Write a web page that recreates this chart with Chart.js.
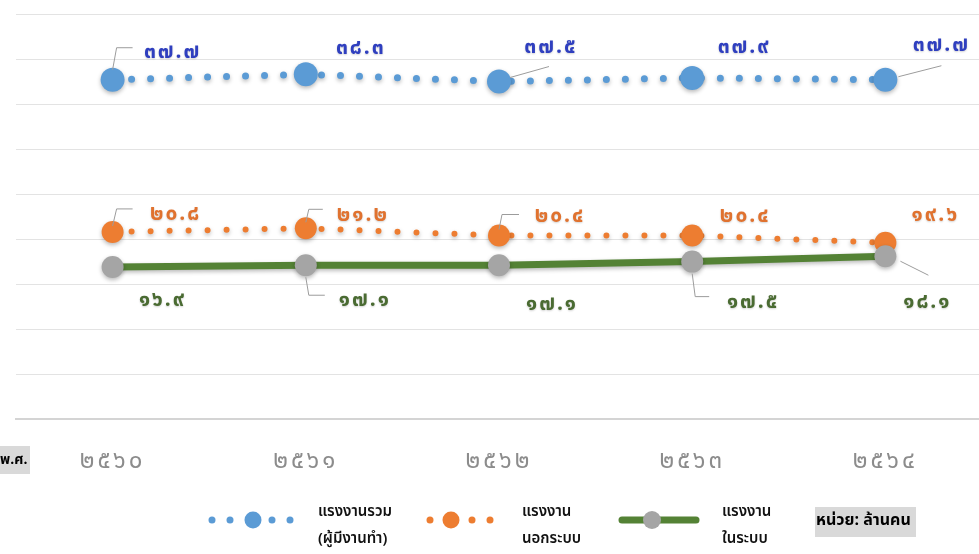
<!DOCTYPE html>
<html>
<head>
<meta charset="utf-8">
<script src="https://cdn.jsdelivr.net/npm/chart.js@4/dist/chart.umd.min.js"></script>
<style>
  html, body { margin: 0; padding: 0; background: #fff; overflow: hidden; }
  #wrap { position: relative; width: 979px; height: 554px; overflow: hidden; }
</style>
</head>
<body>
<div id="wrap"><canvas id="chLabour" width="994" height="554"></canvas></div>
<script>
/* labour force chart, values in million persons */

// data
var years = [2560, 2561, 2562, 2563, 2564];
var totalLabour = [37.7, 38.3, 37.5, 37.9, 37.7];
var informalLabour = [20.8, 21.2, 20.4, 20.4, 19.6];
var formalLabour = [16.9, 17.1, 17.1, 17.5, 18.1];
var seriesNames = [['แรงงานรวม', '(ผู้มีงานทำ)'], ['แรงงาน', 'นอกระบบ'], ['แรงงาน', 'ในระบบ']];

// colors
var colors = {blue: '#5b9bd5', orange: '#ed7d31', green: '#548235', gray: '#a5a5a5'};
var labelColors = ['#2f3fbf', '#e0722f', '#4a6b32'];

// thai digits
function thai(v) {
  var d = '๐๑๒๓๔๕๖๗๘๙';
  return String(v).replace(/[0-9]/g, function (c) { return d[+c]; });
}

// label placement per point: text offset and optional leader line (relative to point)
var labelPlaces = [
  [ {dx:59, dy:-26, lead:[[0,-10],[4,-32],[20,-32]]}, {dx:54, dy:-25}, {dx:51, dy:-33, lead:[[11,-4],[50,-15]]},
    {dx:51, dy:-29}, {dx:55, dy:-33, lead:[[13,-3],[56,-14]]} ],
  [ {dx:62, dy:-16, lead:[[0,-6],[4,-23],[20,-23]]}, {dx:56, dy:-12, lead:[[0,-6],[3,-19],[17,-19]]},
    {dx:60, dy:-18, lead:[[0,-6],[3,-21],[20,-21]]}, {dx:52, dy:-18}, {dx:49, dy:-26} ],
  [ {dx:49, dy:35}, {dx:58, dy:37, lead:[[0,12],[3,30],[19,30]]}, {dx:52, dy:41},
    {dx:60, dy:42, lead:[[0,12],[3,35],[17,35]]}, {dx:41, dy:48, lead:[[15,5],[43,19]]} ]
];

var thaiFont = "'Noto Sans Thai', 'Noto Sans', 'DejaVu Sans', sans-serif";

// soft shadow under lines and markers
var shadowPlugin = {
  id: 'shadow',
  beforeDatasetDraw: function (chart) {
    var ctx = chart.ctx;
    ctx.save();
    ctx.shadowColor = 'rgba(0,0,0,0.28)';
    ctx.shadowBlur = 4;
    ctx.shadowOffsetY = 2;
  },
  afterDatasetDraw: function (chart) { chart.ctx.restore(); }
};

// a bit wider spacing for the x tick labels only
var tickSpacing = {
  id: 'tickSpacing',
  beforeDraw: function (chart) { chart.ctx.letterSpacing = '3px'; },
  beforeDatasetsDraw: function (chart) { chart.ctx.letterSpacing = '0px'; }
};

// value labels with leader lines
var valuePlugin = {
  id: 'values',
  afterDatasetsDraw: function (chart) {
    var ctx = chart.ctx;
    [0, 1, 2].forEach(function (di) {
      var meta = chart.getDatasetMeta(di);
      var ds = chart.data.datasets[di];
      meta.data.forEach(function (pt, i) {
        var pl = labelPlaces[di][i];
        if (pl.lead) {
          ctx.save();
          ctx.strokeStyle = '#9c9c9c';
          ctx.lineWidth = 1;
          ctx.beginPath();
          pl.lead.forEach(function (p, k) {
            if (k === 0) ctx.moveTo(pt.x + p[0], pt.y + p[1]);
            else ctx.lineTo(pt.x + p[0], pt.y + p[1]);
          });
          ctx.stroke();
          ctx.restore();
        }
        ctx.save();
        ctx.font = 'bold 21px ' + thaiFont;
        ctx.letterSpacing = '2px';
        ctx.fillStyle = labelColors[di];
        ctx.textAlign = 'center';
        ctx.textBaseline = 'middle';
        ctx.shadowColor = 'rgba(0,0,0,0.18)';
        ctx.shadowBlur = 2;
        ctx.shadowOffsetY = 1;
        ctx.fillText(thai(ds.data[i].toFixed(1)), pt.x + pl.dx + 1, pt.y + pl.dy);
        ctx.restore();
      });
    });
  }
};

// custom legend and side notes
var legendPlugin = {
  id: 'thaiLegend',
  afterDraw: function (chart) {
    var ctx = chart.ctx;
    ctx.save();
    ctx.letterSpacing = '0px';
    // unit boxes
    ctx.fillStyle = '#d9d9d9';
    ctx.fillRect(0, 446, 30, 28);
    ctx.fillRect(815, 507, 101, 30);
    ctx.fillStyle = '#000';
    ctx.font = 'bold 14px ' + thaiFont;
    ctx.textBaseline = 'middle';
    ctx.textAlign = 'left';
    ctx.fillText('พ.ศ.', 0, 461);
    ctx.font = 'bold 16px ' + thaiFont;
    ctx.fillText('หน่วย: ล้านคน', 816, 522);

    var y = 520;
    function dot(x, r, c) {
      ctx.beginPath(); ctx.arc(x, y, r, 0, Math.PI * 2); ctx.fillStyle = c; ctx.fill();
    }
    // blue
    [212, 230, 272, 290].forEach(function (x) { dot(x, 3.5, colors.blue); });
    dot(253, 8.5, colors.blue);
    // orange
    [430, 472, 490].forEach(function (x) { dot(x, 3.5, colors.orange); });
    dot(451, 8.5, colors.orange);
    // green line + gray marker
    ctx.strokeStyle = colors.green; ctx.lineWidth = 7; ctx.lineCap = 'round';
    ctx.beginPath(); ctx.moveTo(622, y); ctx.lineTo(696, y); ctx.stroke();
    dot(652, 9, colors.gray);

    ctx.fillStyle = '#111';
    ctx.font = '600 15px ' + thaiFont;
    var tx = [318, 522, 722];
    seriesNames.forEach(function (lines, k) {
      ctx.fillText(lines[0], tx[k], 513);
      ctx.fillText(lines[1], tx[k], 540);
    });
    ctx.restore();
  }
};

var chLabour = document.getElementById('chLabour');
if (chLabour) {
  new Chart(chLabour, {
    type: 'line',
    data: {
      labels: years,
      datasets: [
        {
          label: 'แรงงานรวม (ผู้มีงานทำ)',
          data: totalLabour,
          order: 2,
          borderColor: colors.blue,
          borderWidth: 7,
          borderDash: [0, 19],
          borderCapStyle: 'round',
          pointRadius: 12,
          pointBackgroundColor: colors.blue,
          pointBorderWidth: 0,
          tension: 0
        },
        {
          label: 'แรงงานนอกระบบ',
          data: informalLabour,
          order: 1,
          borderColor: colors.orange,
          borderWidth: 6,
          borderDash: [0, 19],
          borderCapStyle: 'round',
          pointRadius: 11,
          pointBackgroundColor: colors.orange,
          pointBorderWidth: 0,
          tension: 0
        },
        {
          label: 'แรงงานในระบบ',
          data: formalLabour,
          order: 0,
          borderColor: colors.green,
          borderWidth: 7,
          pointRadius: 11,
          pointBackgroundColor: colors.gray,
          pointBorderColor: colors.gray,
          pointBorderWidth: 0,
          tension: 0
        }
      ]
    },
    options: {
      responsive: false,
      animation: false,
      layout: {padding: {left: 16, right: 0, top: 14, bottom: 54}},
      plugins: {legend: {display: false}, tooltip: {enabled: false}},
      scales: {
        x: {
          offset: true,
          grid: {display: false},
          border: {display: true, color: '#d4d4d4', width: 2},
          ticks: {
            color: '#8c8c8c',
            padding: 22,
            font: {family: thaiFont, size: 24},
            callback: function (v, i) { return thai(years[i]); }
          }
        },
        y: {
          min: 0,
          max: 45,
          ticks: {display: false, stepSize: 5},
          grid: {color: '#e3e3e3', lineWidth: 1, drawTicks: false},
          border: {display: false}
        }
      }
    },
    plugins: [tickSpacing, shadowPlugin, valuePlugin, legendPlugin]
  });
}
</script>
</body>
</html>
